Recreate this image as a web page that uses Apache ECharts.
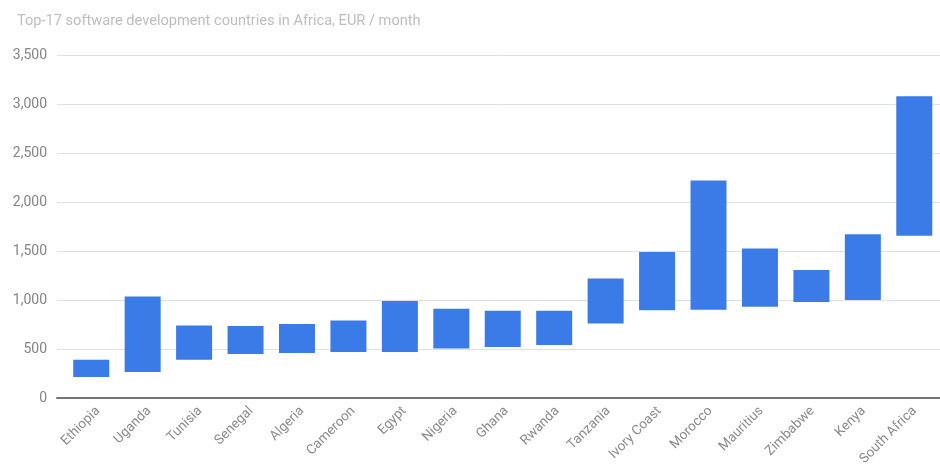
<!DOCTYPE html>
<html>
<head>
<meta charset="utf-8">
<script src="https://cdn.jsdelivr.net/npm/echarts@6/dist/echarts.min.js"></script>
<style>
html,body{margin:0;padding:0;background:#fff;}
#c{width:940px;height:474px;}
</style>
</head>
<body>
<div id="c"></div>
<script>
const countries = ['Ethiopia','Uganda','Tunisia','Senegal','Algeria','Cameroon','Egypt','Nigeria','Ghana','Rwanda','Tanzania','Ivory Coast','Morocco','Mauritius','Zimbabwe','Kenya','South Africa'];
const lowValues  = [215, 265, 390, 450, 460, 470, 470, 505, 520, 540, 760, 895, 900, 930, 980, 1000, 1655];
const highValues = [390, 1035, 740, 735, 755, 790, 990, 910, 890, 890, 1220, 1490, 2220, 1525, 1305, 1670, 3080];
const yTicks = [0, 500, 1000, 1500, 2000, 2500, 3000, 3500];
const titleText = 'Top-17 software development countries in Africa, EUR / month';

const spans = highValues.map((h, i) => h - lowValues[i]);
const yMin = yTicks[0], yMax = yTicks[yTicks.length - 1], yStep = yTicks[1] - yTicks[0];
const font = 'Roboto, "Noto Sans", Arial, sans-serif';

const chart = echarts.init(document.getElementById('c'), null, {renderer: 'canvas'});
chart.setOption({
  animation: false,
  backgroundColor: '#fff',
  title: {
    text: titleText, left: 12, top: 9,
    textStyle: {color: '#bdbdbd', fontSize: 14.6, fontWeight: 'normal', fontFamily: font}
  },
  grid: [
    {left: 57, right: 0, top: 55, bottom: 76, containLabel: false},
    {left: 65.5, right: 0, top: 55, bottom: 76, containLabel: false},
    {left: 72.5, right: -7, top: 55, bottom: 76, containLabel: false}
  ],
  xAxis: [
    {type: 'category', gridIndex: 0, data: countries, show: true,
     axisLine: {show: true, lineStyle: {color: '#757575', width: 2}},
     axisTick: {show: false}, axisLabel: {show: false}, splitLine: {show: false}},
    {type: 'category', gridIndex: 1, data: countries,
     axisLine: {show: false}, axisTick: {show: false}, axisLabel: {show: false}},
    {type: 'category', gridIndex: 2, data: countries,
     axisLine: {show: false}, axisTick: {show: false},
     axisLabel: {rotate: 45, color: '#8a8a8a', fontSize: 13.5, fontFamily: font, margin: 11, interval: 0}}
  ],
  yAxis: [
    {type: 'value', gridIndex: 0, min: yMin, max: yMax, interval: yStep,
     axisLine: {show: false}, axisTick: {show: false},
     axisLabel: {color: '#858585', fontSize: 14, fontFamily: font, margin: 10,
       formatter: v => v.toLocaleString('en-US')},
     splitLine: {lineStyle: {color: '#e0e0e0', width: 1}}},
    {type: 'value', gridIndex: 1, min: yMin, max: yMax, interval: yStep, show: false,
     splitLine: {show: false}},
    {type: 'value', gridIndex: 2, min: yMin, max: yMax, interval: yStep, show: false,
     splitLine: {show: false}}
  ],
  series: [
    {type: 'bar', xAxisIndex: 1, yAxisIndex: 1, stack: 'r', data: lowValues,
     itemStyle: {color: 'transparent'}, barWidth: '70%', silent: true},
    {type: 'bar', xAxisIndex: 1, yAxisIndex: 1, stack: 'r', data: spans,
     itemStyle: {color: '#3b7be8'}, barWidth: '70%'}
  ]
});
</script>
</body>
</html>
